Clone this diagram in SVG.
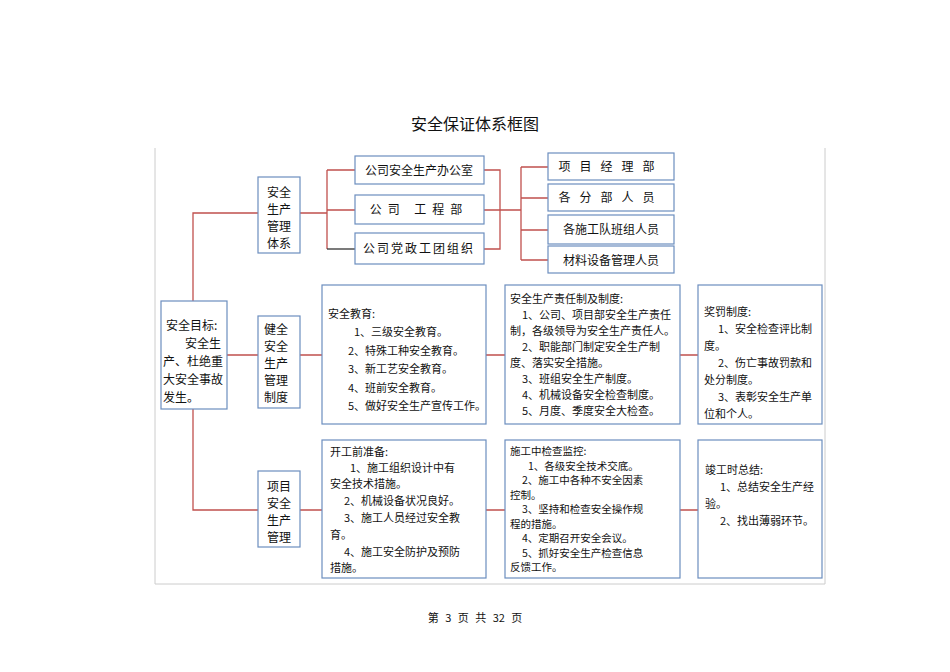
<svg xmlns="http://www.w3.org/2000/svg" width="950" height="672" viewBox="0 0 950 672">
<style>
.b{fill:#fff;stroke:#6c8ebf;stroke-width:1.2}
.t{font-family:"Noto Sans CJK SC","Liberation Serif",serif;font-size:12px;fill:#111}
.s{font-size:11px}
.m{font-size:10.5px}
.c{text-anchor:middle}
.l{fill:none;stroke:#c0504d;stroke-width:1.3}
</style>
<rect width="950" height="672" fill="#fff"/>
<text x="475" y="130" class="t c" style="font-size:16px">安全保证体系框图</text>
<path d="M155,148 V584 H825 V148" fill="none" stroke="#ccc" stroke-width="1"/>
<g id="connectors">
<path class="l" d="M193,301 V213 H258 M193,409 V510 H258 M227,355 H258 M300,355 H322 M486,355 H505 M680,355 H698 M300,510 H322 M486,510 H505 M680,510 H698"/>
<path class="l" d="M300,213 H327 M327,170 V249 M327,170 H355 M327,210 H355 M484,170 H500 V249 H484 M484,210 H521 M521,167 V260 M521,167 H548 M521,198 H548 M521,230 H548 M521,260 H548"/>
<path d="M327,249 H355" stroke="#333" stroke-width="1.3"/>
</g>
<g id="goal"><rect class="b" x="161" y="301" width="66" height="108"/>
<text class="t" x="166" y="330">安全目标:</text><text class="t" x="185" y="348">安全生</text><text class="t" x="163" y="366">产、杜绝重</text><text class="t" x="163" y="384">大安全事故</text><text class="t" x="163" y="402">发生。</text></g>
<g id="sys"><rect class="b" x="258" y="177" width="42" height="76"/>
<text class="t c" x="279" y="197">安全</text><text class="t c" x="279" y="214">生产</text><text class="t c" x="279" y="231">管理</text><text class="t c" x="279" y="248">体系</text></g>
<g id="o1"><rect class="b" x="355" y="156" width="129" height="28"/><text class="t c" x="419" y="175">公司安全生产办公室</text></g>
<g id="o2"><rect class="b" x="355" y="195" width="129" height="29"/><text class="t c" x="419" y="214" style="letter-spacing:6px">公司 工程部</text></g>
<g id="o3"><rect class="b" x="355" y="233" width="129" height="31"/><text class="t c" x="419" y="253" style="letter-spacing:2px">公司党政工团组织</text></g>
<g id="r1"><rect class="b" x="548" y="153" width="126" height="27"/><text class="t c" x="611" y="171" style="letter-spacing:9px">项目经理部</text></g>
<g id="r2"><rect class="b" x="548" y="184" width="126" height="27"/><text class="t c" x="611" y="202" style="letter-spacing:9px">各分部人员</text></g>
<g id="r3"><rect class="b" x="548" y="215" width="126" height="29"/><text class="t c" x="611" y="234">各施工队班组人员</text></g>
<g id="r4"><rect class="b" x="548" y="246" width="126" height="27"/><text class="t c" x="611" y="265">材料设备管理人员</text></g>
<g id="sys2"><rect class="b" x="258" y="316" width="42" height="92"/>
<text class="t" x="264" y="334">健全</text><text class="t" x="264" y="351">安全</text><text class="t" x="264" y="368">生产</text><text class="t" x="264" y="385">管理</text><text class="t" x="264" y="402">制度</text></g>
<g id="edu" class="t s"><rect class="b" x="322" y="285" width="164" height="139"/>
<text x="328" y="318">安全教育:</text><text x="354" y="336">1、三级安全教育。</text><text x="348" y="355">2、特殊工种安全教育。</text><text x="348" y="373">3、新工艺安全教育。</text><text x="348" y="392">4、班前安全教育。</text><text x="348" y="410">5、做好安全生产宣传工作。</text></g>
<g id="resp" class="t s"><rect class="b" x="505" y="285" width="175" height="139"/>
<text x="510" y="303">安全生产责任制及制度:</text><text x="522" y="319">1、公司、项目部安全生产责任</text><text x="510" y="335">制，各级领导为安全生产责任人。</text><text x="522" y="351">2、职能部门制定安全生产制</text><text x="510" y="367">度、落实安全措施。</text><text x="522" y="383">3、班组安全生产制度。</text><text x="522" y="399">4、机械设备安全检查制度。</text><text x="522" y="415">5、月度、季度安全大检查。</text></g>
<g id="reward" class="t s"><rect class="b" x="698" y="285" width="124" height="139"/>
<text x="704" y="316">奖罚制度:</text><text x="718" y="333">1、安全检查评比制</text><text x="704" y="350">度。</text><text x="718" y="367">2、伤亡事故罚款和</text><text x="704" y="384">处分制度。</text><text x="718" y="401">3、表彰安全生产单</text><text x="704" y="418">位和个人。</text></g>
<g id="proj"><rect class="b" x="258" y="471" width="42" height="76"/>
<text class="t c" x="279" y="491">项目</text><text class="t c" x="279" y="508">安全</text><text class="t c" x="279" y="525">生产</text><text class="t c" x="279" y="542">管理</text></g>
<g id="pre" class="t s"><rect class="b" x="322" y="440" width="164" height="138"/>
<text x="330" y="456">开工前准备:</text><text x="350" y="472">1、施工组织设计中有</text><text x="330" y="488">安全技术措施。</text><text x="344" y="505">2、机械设备状况良好。</text><text x="344" y="522">3、施工人员经过安全教</text><text x="330" y="539">育。</text><text x="344" y="556">4、施工安全防护及预防</text><text x="330" y="572">措施。</text></g>
<g id="mid" class="t m"><rect class="b" x="505" y="440" width="175" height="138"/>
<text x="510" y="455">施工中检查监控:</text><text x="528" y="469.5">1、各级安全技术交底。</text><text x="522" y="484">2、施工中各种不安全因素</text><text x="510" y="498.5">控制。</text><text x="522" y="513">3、坚持和检查安全操作规</text><text x="510" y="527.5">程的措施。</text><text x="522" y="542">4、定期召开安全会议。</text><text x="522" y="556.5">5、抓好安全生产检查信息</text><text x="510" y="571">反馈工作。</text></g>
<g id="end" class="t s"><rect class="b" x="698" y="440" width="124" height="138"/>
<text x="705" y="474">竣工时总结:</text><text x="720" y="491">1、总结安全生产经</text><text x="705" y="508">验。</text><text x="720" y="525">2、找出薄弱环节。</text></g>
<text x="475" y="622" class="t c" style="font-size:11px;word-spacing:4px">第 3 页 共 32 页</text>
</svg>
